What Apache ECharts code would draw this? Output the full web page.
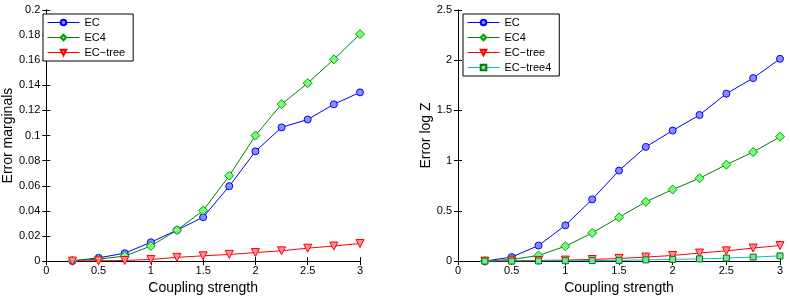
<!DOCTYPE html>
<html>
<head>
<meta charset="utf-8">
<script src="https://cdn.jsdelivr.net/npm/echarts@6/dist/echarts.min.js"></script>
<style>
  html, body { margin: 0; padding: 0; background: #fff; }
  #chart { width: 790px; height: 300px; }
</style>
</head>
<body>
<div id="chart"></div>
<script>
// Coupling strength values (shared x)
const couplings = [0.25, 0.5, 0.75, 1, 1.25, 1.5, 1.75, 2, 2.25, 2.5, 2.75, 3]

// Left panel: error marginals
const marginalsEC = [0, 0.0026, 0.0063, 0.015, 0.0247, 0.035, 0.0597, 0.0874, 0.1065, 0.1128, 0.1249, 0.1344]
const marginalsEC4 = [0.0005, 0.0016, 0.004, 0.012, 0.0247, 0.0403, 0.068, 0.1, 0.125, 0.1417, 0.1607, 0.1808]
const marginalsTree = [0, 0.0003, 0.0005, 0.0013, 0.003, 0.0042, 0.0053, 0.0068, 0.0082, 0.0103, 0.012, 0.014]

// Right panel: error log Z
const logzEC = [0, 0.04, 0.155, 0.356, 0.614, 0.901, 1.137, 1.3, 1.455, 1.667, 1.822, 2.014]
const logzEC4 = [0, 0.016, 0.056, 0.148, 0.28, 0.436, 0.59, 0.713, 0.825, 0.96, 1.086, 1.238]
const logzTree = [0, 0.003, 0.007, 0.01, 0.016, 0.026, 0.04, 0.056, 0.08, 0.102, 0.13, 0.155]
const logzTree4 = [0, 0, 0.002, 0.004, 0.005, 0.007, 0.012, 0.017, 0.022, 0.03, 0.04, 0.052]

const FONT = '"Liberation Sans", Arial, sans-serif'

const pairs = ys => couplings.map( ( x, i ) => [x, ys[i]] )

const styles = {
  'EC' : { line : '#0000ff', fill : '#8c8cff', border : '#0000ff', symbol : 'circle', size : 7 },
  'EC4' : { line : '#008000', fill : '#7cfc7c', border : '#00a000', symbol : 'diamond', size : 9 },
  'EC−tree' : { line : '#ff0000', fill : '#ff8c9c', border : '#ff0000', symbol : 'triangle', size : 8, rotate : 180 },
  'EC−tree4' : { line : '#00bfbf', fill : '#7fdcb0', border : '#008000', symbol : 'rect', size : 6 }
}

const makeSeries = ( name, ys, axisIndex ) => {
  const s = styles[name]
  return {
    name,
    type : 'line',
    xAxisIndex : axisIndex,
    yAxisIndex : axisIndex,
    data : pairs( ys ),
    symbol : s.symbol,
    symbolSize : s.size,
    symbolRotate : s.rotate || 0,
    showAllSymbol : true,
    lineStyle : { color : s.line, width : 1 },
    itemStyle : { color : s.fill, borderColor : s.border, borderWidth : 1 },
    emphasis : { disabled : true },
    animation : false
  }
}

const mainX = ( gridIndex ) => ( {
  type : 'value',
  gridIndex,
  min : 0,
  max : 3,
  interval : 0.5,
  name : 'Coupling strength',
  nameLocation : 'middle',
  nameGap : 17,
  nameTextStyle : { fontFamily : FONT, fontSize : 14, color : '#000' },
  axisLine : { lineStyle : { color : '#000', width : 1 } },
  axisTick : { inside : true, length : 4, lineStyle : { color : '#000' } },
  axisLabel : { fontFamily : FONT, fontSize : 11, color : '#000', margin : 4 },
  splitLine : { show : false }
} )

const mirrorX = ( gridIndex ) => ( {
  type : 'value',
  gridIndex,
  position : 'top',
  min : 0,
  max : 3,
  interval : 0.5,
  axisLine : { lineStyle : { color : '#000', width : 1 } },
  axisTick : { inside : true, length : 4, lineStyle : { color : '#000' } },
  axisLabel : { show : false },
  splitLine : { show : false }
} )

const mainY = ( gridIndex, max, interval, name, gap ) => ( {
  type : 'value',
  gridIndex,
  min : 0,
  max,
  interval,
  name,
  nameLocation : 'middle',
  nameGap : gap,
  nameTextStyle : { fontFamily : FONT, fontSize : 14, color : '#000' },
  axisLine : { show : true, lineStyle : { color : '#000', width : 1 } },
  axisTick : { show : true, inside : true, length : 4, lineStyle : { color : '#000' } },
  axisLabel : { fontFamily : FONT, fontSize : 11, color : '#000', margin : 6 },
  splitLine : { show : false }
} )

const mirrorY = ( gridIndex, max, interval ) => ( {
  type : 'value',
  gridIndex,
  position : 'right',
  min : 0,
  max,
  interval,
  axisLine : { show : true, lineStyle : { color : '#000', width : 1 } },
  axisTick : { show : true, inside : true, length : 4, lineStyle : { color : '#000' } },
  axisLabel : { show : false },
  splitLine : { show : false }
} )

const legendBase = ( left, data ) => ( {
  data,
  left,
  top : 14,
  orient : 'vertical',
  backgroundColor : '#fff',
  borderColor : '#000',
  borderWidth : 1,
  borderRadius : 0,
  padding : [3, 8, 3, 4],
  itemWidth : 32,
  itemHeight : 7,
  itemGap : 4,
  selectedMode : false,
  lineStyle : { width : 1 },
  textStyle : { fontFamily : FONT, fontSize : 11, color : '#000' }
} )

const chart = echarts.init( document.getElementById( 'chart' ), null, { renderer : 'canvas' } )

chart.setOption( {
  animation : false,
  backgroundColor : '#fff',
  grid : [
    { left : 39, right : 430, top : 10, bottom : 37 },
    { left : 458, right : 10, top : 10, bottom : 37 }
  ],
  legend : [
    legendBase( 43, ['EC', 'EC4', 'EC−tree'] ),
    legendBase( 463, ['EC', 'EC4', 'EC−tree', 'EC−tree4'] )
  ],
  xAxis : [mainX( 0 ), mainX( 1 ), mirrorX( 0 ), mirrorX( 1 )],
  yAxis : [
    mainY( 0, 0.2, 0.02, 'Error marginals', 25 ),
    mainY( 1, 2.5, 0.5, 'Error log Z', 21 ),
    mirrorY( 0, 0.2, 0.02 ),
    mirrorY( 1, 2.5, 0.5 )
  ],
  series : [
    makeSeries( 'EC', marginalsEC, 0 ),
    makeSeries( 'EC4', marginalsEC4, 0 ),
    makeSeries( 'EC−tree', marginalsTree, 0 ),
    makeSeries( 'EC', logzEC, 1 ),
    makeSeries( 'EC4', logzEC4, 1 ),
    makeSeries( 'EC−tree', logzTree, 1 ),
    makeSeries( 'EC−tree4', logzTree4, 1 )
  ]
} )
</script>
</body>
</html>
